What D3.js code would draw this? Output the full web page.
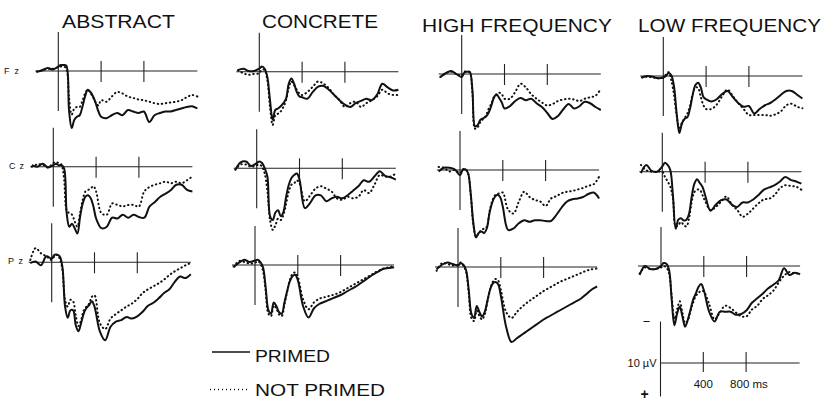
<!DOCTYPE html>
<html><head><meta charset="utf-8">
<script src="https://cdn.jsdelivr.net/npm/d3@7"></script>
<style>
html,body{margin:0;padding:0;background:#fff;}
svg{display:block;font-family:"Liberation Sans",Arial,Helvetica,sans-serif;}
</style></head>
<body><svg id="chart" width="823" height="406"></svg>
<script>
// time points (ms)
const times = [-200,-150,-100,-50,0,25,50,75,100,125,150,175,200,225,250,275,300,325,350,375,400,450,500,550,600,650,700,750,800,850,900,950,1000,1050,1100,1150,1200,1250,1300];
const conditions = ["ABSTRACT","CONCRETE","HIGH FREQUENCY","LOW FREQUENCY"];
const electrodes = ["Fz","Cz","Pz"];
const seriesNames = ["PRIMED","NOT PRIMED"];
const calibTicks = [400, 800];
const calibTickLabels = ["400", "800 ms"];

// amplitudes in µV (positive plotted downward)
const abstractFzPrimed    = [0.1,-0.1,-0.4,-0.2,-0.6,-0.8,-0.8,-0.7,5.2,7.6,6.5,6.1,5.9,4.8,3.4,2.5,2.8,3.4,4.3,5.4,6.1,6.3,5.9,5.6,5.9,5.2,5.4,5.6,5.4,6.8,5.9,5.6,5.4,5.4,5.2,5.0,4.8,4.7,5.0];
const abstractFzNotPrimed = [0.1,-0.1,-0.3,-0.3,-0.5,-0.6,-0.6,-0.3,3.5,5.8,5.0,4.8,4.8,4.0,3.0,2.5,2.9,3.5,4.2,4.6,3.9,4.1,3.4,2.8,3.0,3.4,3.6,3.8,3.9,4.1,4.3,4.4,4.3,4.2,4.1,3.9,3.5,3.2,3.4];
const abstractCzPrimed    = [-0.2,0,-0.4,0.1,-0.2,-0.4,-0.2,-0.2,0.2,6.2,8.0,7.6,8.2,8.9,6.7,4.9,4.0,3.8,4.2,5.3,6.9,8.2,8.0,6.8,6.9,6.4,6.8,6.4,6.7,6.8,5.3,4.7,4.0,3.6,3.1,2.4,2.4,3.1,3.3];
const abstractCzNotPrimed = [0,-0.3,-0.3,0.1,-0.5,-0.6,-0.5,-0.3,1.5,5.8,6.2,6.4,7.3,8.0,6.2,4.4,3.3,3.1,2.9,2.6,3.3,6.2,6.4,4.9,5.1,5.3,5.1,5.1,5.3,3.3,2.7,2.4,2.2,2.0,2.2,2.0,2.2,1.8,1.3];
const abstractPzPrimed    = [0.1,-0.1,0.4,-0.8,-0.5,-1.0,-1.0,-0.8,0.6,5.9,7.4,6.4,6.4,8.4,9.2,8.1,6.8,6.1,5.7,5.2,5.9,9.2,10.4,8.6,7.9,7.7,7.3,7.5,7.2,6.6,5.8,5.4,4.8,4.1,3.6,2.6,1.9,2.1,1.6];
const abstractPzNotPrimed = [-0.3,-1.9,-1.2,-0.8,-0.3,-0.8,-1.0,-0.5,1.0,5.0,5.9,5.0,5.2,7.1,8.5,7.7,6.4,5.9,5.5,4.6,4.4,8.1,8.9,7.5,6.9,6.4,5.9,5.5,4.9,4.1,3.6,3.2,2.8,2.3,1.7,1.2,0.8,0.4,0.1];

const concreteFzPrimed    = [-0.2,-0.4,-0.1,-0.1,-0.4,-0.7,-0.4,0.7,3.8,6.4,5.1,4.9,4.6,4.2,3.6,1.6,0.9,1.6,2.7,3.3,3.4,3.6,2.7,2.0,1.9,2.4,3.1,3.8,4.4,4.7,4.2,3.9,3.6,3.8,3.1,1.6,2.1,2.5,2.4];
const concreteFzNotPrimed = [-0.2,0.2,0.4,0.3,0.2,-0.3,-0.2,1.1,4.7,7.1,5.8,5.6,5.3,4.7,3.8,2.2,1.3,1.8,2.4,2.9,3.1,2.7,2.0,1.3,1.6,2.2,3.1,3.8,4.7,4.2,4.0,4.7,4.2,3.8,3.3,2.4,2.9,3.1,3.1];
const concreteCzPrimed    = [0.2,-0.8,-0.9,-0.3,-0.7,-0.9,-0.7,0,1.1,6.4,6.9,5.9,5.6,6.4,5.8,3.8,2.2,1.3,0.9,0.7,1.5,5.3,4.6,3.6,3.6,4.4,4.0,3.8,4.0,3.6,3.0,2.4,1.6,1.8,1.1,0.4,1.0,1.2,1.5];
const concreteCzNotPrimed = [0.2,-0.5,-0.5,-0.2,-0.4,-0.5,-0.2,0.7,3.0,6.9,8.2,7.6,6.7,6.9,6.2,4.7,3.1,2.2,2.0,1.6,2.0,4.4,3.6,2.7,2.4,2.7,3.1,4.0,4.2,3.8,4.0,3.8,2.9,3.3,2.2,0.9,1.1,1.1,0.7];
const concretePzPrimed    = [0.3,-0.3,-0.7,-0.4,-0.6,-0.7,-0.4,0.3,3.0,6.0,6.5,5.0,5.5,6.3,6.5,5.0,3.5,2.2,1.5,1.3,2.0,5.5,7.0,5.8,5.2,4.9,4.6,4.3,4.0,3.6,3.2,2.8,2.3,1.8,1.3,0.9,0.5,0.4,0.3];
const concretePzNotPrimed = [0.2,-0.5,-0.4,-0.2,-0.3,-0.5,-0.2,0.8,3.5,6.5,6.8,5.4,5.8,6.6,6.8,5.3,3.6,2.0,1.2,1.0,1.6,4.6,5.9,5.0,4.5,4.3,4.1,3.9,3.6,3.2,2.8,2.4,2.0,1.6,1.2,0.8,0.5,0.3,0.2];

const hfFzPrimed    = [0.4,-0.1,-0.4,0,0.4,-0.2,-0.3,-0.3,2.1,7.0,6.8,6.1,5.9,5.7,5.2,4.3,3.2,2.7,3.2,3.8,4.6,4.3,3.6,3.2,3.5,3.3,3.9,4.4,5.2,6.0,5.6,4.7,4.0,4.6,4.3,3.7,3.9,4.4,4.8];
const hfFzNotPrimed = [0.4,-0.1,-0.3,0,0.2,-0.3,-0.3,-0.2,2.5,7.3,7.1,6.4,6.0,5.6,4.7,4.0,3.1,2.8,2.5,2.7,3.3,3.3,2.4,1.3,1.8,2.7,3.3,3.8,4.2,4.0,3.6,3.4,3.3,3.4,3.6,3.3,3.1,2.9,2.0];
const hfCzPrimed    = [0.2,-0.3,-0.3,-0.1,0.7,0,-0.1,0.4,3.1,7.1,9.0,8.4,8.2,8.4,7.8,5.8,4.4,3.6,3.3,3.6,4.9,8.0,7.8,7.1,6.7,6.9,6.7,6.7,6.8,6.8,6.0,5.0,4.2,3.9,3.8,3.6,3.2,3.0,3.8];
const hfCzNotPrimed = [-0.4,-0.3,0.2,0,0.4,-0.1,-0.1,0.4,3.3,7.3,8.9,8.4,8.0,7.8,7.6,5.6,4.2,3.4,3.2,3.1,3.0,5.3,5.8,4.2,2.9,3.6,4.0,4.2,4.8,3.8,3.5,3.1,2.9,2.8,2.6,2.4,2.1,1.9,0.9];
const hfPzPrimed    = [0.3,-0.3,-0.6,-0.4,-0.2,-0.5,-0.3,0.4,3.0,6.2,6.8,5.2,6.0,6.6,6.0,4.5,3.0,2.2,2.0,2.3,3.8,8.0,10.0,9.5,9.0,8.5,8.0,7.5,7.0,6.6,6.2,5.8,5.4,5.0,4.6,4.2,3.6,3.0,2.6];
const hfPzNotPrimed = [0.5,-0.5,-0.4,-0.2,-0.3,-0.6,-0.2,0.6,3.5,6.8,7.2,5.8,6.5,7.0,6.3,4.6,3.0,2.0,1.6,1.8,3.0,6.0,6.8,6.0,5.3,4.7,4.2,3.7,3.2,2.8,2.4,2.0,1.7,1.4,1.1,0.8,0.5,0.3,0.2];

const lfFzPrimed    = [0.2,0,0.1,0.3,0.2,0,-0.4,-0.1,1.4,5.0,7.6,6.3,5.7,5.5,4.3,2.5,1.2,0.9,1.5,2.8,3.1,3.4,3.1,2.4,2.0,2.8,3.6,4.1,4.0,5.0,4.4,3.9,3.6,3.1,2.5,2.0,2.0,2.5,3.0];
const lfFzNotPrimed = [0.2,0.1,0.2,0.3,0.2,-0.2,-0.5,0.6,2.5,5.3,6.9,6.2,5.6,5.0,4.0,2.4,1.5,1.6,2.8,3.9,4.4,4.4,3.8,2.7,1.8,2.7,3.6,4.4,5.2,5.2,5.2,5.2,5.3,5.1,4.7,3.9,3.7,4.1,4.3];
const lfCzPrimed    = [0.2,-0.9,-0.1,0,-0.7,-1.2,-0.9,-0.2,3.3,7.6,6.4,6.2,6.5,6.4,5.6,3.3,1.6,1.0,1.5,2.0,3.1,5.2,4.4,3.8,3.7,4.4,4.7,4.1,4.1,3.7,3.1,2.4,2.1,1.8,1.3,0.7,1.1,1.3,1.6];
const lfCzNotPrimed = [-0.9,-0.2,0,0,0,0.7,1.3,2.0,3.6,7.3,7.1,6.7,7.1,7.3,6.2,4.0,2.7,2.4,2.4,3.1,3.9,5.1,4.7,4.0,3.3,4.4,5.1,6.0,5.6,4.9,4.2,3.7,3.6,3.1,2.2,1.8,1.9,2.0,2.4];
const lfPzPrimed    = [1.2,0,0.4,0.4,0,-0.4,-0.3,0.5,4.5,7.9,6.4,5.4,6.7,8.1,7.2,5.9,4.5,3.7,2.8,2.4,3.2,6.1,7.4,6.1,6.1,6.1,6.5,6.4,5.9,4.9,4.3,3.7,3.0,2.5,1.9,0.3,1.2,0.9,1.1];
const lfPzNotPrimed = [1.0,0.2,0.4,0.4,0.2,0,0.2,1.0,4.0,7.1,5.8,4.7,6.2,7.6,7.3,6.0,4.9,4.0,3.6,3.3,3.4,5.1,7.1,6.2,5.3,5.6,6.2,6.7,6.7,5.8,5.3,4.4,3.9,3.3,2.2,1.3,0.8,1.0,1.0];

const panelData = [
  [[abstractFzPrimed,abstractFzNotPrimed],[abstractCzPrimed,abstractCzNotPrimed],[abstractPzPrimed,abstractPzNotPrimed]],
  [[concreteFzPrimed,concreteFzNotPrimed],[concreteCzPrimed,concreteCzNotPrimed],[concretePzPrimed,concretePzNotPrimed]],
  [[hfFzPrimed,hfFzNotPrimed],[hfCzPrimed,hfCzNotPrimed],[hfPzPrimed,hfPzNotPrimed]],
  [[lfFzPrimed,lfFzNotPrimed],[lfCzPrimed,lfCzNotPrimed],[lfPzPrimed,lfPzNotPrimed]]
];

// ---- layout (the scanned figure is slightly skewed: per-panel origins) ----
const onsetX = [[58.3,53.3,51.7],[259.3,256.7,255],[461.7,460,458],[663.3,662.3,661]];
const baseY  = [[71,166.7,262.3],[71.7,168.3,265],[74,170,267],[76,171.7,266]];
const titlePos = [[62,28,113],[262,28.3,116],[422,32,190],[638,32,183]];

const svg = d3.select("#chart");
const x = d3.scaleLinear().domain([-200,1300]).range([-21.4,139.1]);
const y = d3.scaleLinear().domain([-5,5]).range([-37.5,37.5]);
const line = d3.line().x((d,i)=>x(times[i])).y(d=>y(d)).curve(d3.curveCatmullRom.alpha(0.5));

conditions.forEach((c,ci)=>{
  const tp = titlePos[ci];
  svg.append("text").attr("x",tp[0]).attr("y",tp[1]).attr("textLength",tp[2]).attr("lengthAdjust","spacingAndGlyphs")
    .attr("font-size",18.5).attr("fill","#111").text(c);
  electrodes.forEach((e,ei)=>{
    const g = svg.append("g").attr("transform",`translate(${onsetX[ci][ei]},${baseY[ci][ei]})`);
    g.append("line").attr("x1",x(-215)).attr("x2",x(1300)).attr("y1",0).attr("y2",0)
      .attr("stroke","#222").attr("stroke-width",1.1);
    g.append("line").attr("x1",0).attr("x2",0).attr("y1",-39).attr("y2",ei===2&&ci===3?0:40)
      .attr("stroke","#222").attr("stroke-width",1.1);
    [400,800].forEach(t=>{
      g.append("line").attr("x1",x(t)).attr("x2",x(t)).attr("y1",-10).attr("y2",11)
        .attr("stroke","#222").attr("stroke-width",1.1);
    });
    const [p,np] = panelData[ci][ei];
    g.append("path").attr("d",line(np)).attr("fill","none").attr("stroke","#111")
      .attr("stroke-width",2).attr("stroke-dasharray","0.5 3.6").attr("stroke-linecap","round");
    g.append("path").attr("d",line(p)).attr("fill","none").attr("stroke","#111")
      .attr("stroke-width",2);
  });
});

// electrode labels
const labelXY = [[4,74],[9,168.5],[8,264]];
electrodes.forEach((e,ei)=>{
  svg.append("text").attr("x",labelXY[ei][0]).attr("y",labelXY[ei][1]).attr("font-size",9)
    .attr("textLength",15).attr("lengthAdjust","spacing").attr("fill","#111").text(e);
});

// legend
svg.append("line").attr("x1",212).attr("x2",250).attr("y1",352).attr("y2",352).attr("stroke","#111").attr("stroke-width",1.4);
svg.append("text").attr("x",255).attr("y",362).attr("font-size",16.5).attr("textLength",75).attr("lengthAdjust","spacingAndGlyphs").attr("fill","#111").text(seriesNames[0]);
svg.append("line").attr("x1",210).attr("x2",250).attr("y1",389.5).attr("y2",389.5).attr("stroke","#111").attr("stroke-width",1.4).attr("stroke-dasharray","1 3");
svg.append("text").attr("x",255).attr("y",395.5).attr("font-size",16.5).attr("textLength",130).attr("lengthAdjust","spacingAndGlyphs").attr("fill","#111").text(seriesNames[1]);

// calibration
const cg = svg.append("g").attr("transform","translate(660.5,359)");
cg.append("line").attr("x1",0).attr("x2",0).attr("y1",y(-5)).attr("y2",y(5)).attr("stroke","#222").attr("stroke-width",1.1);
cg.append("line").attr("x1",0).attr("x2",x(1300)).attr("y1",4).attr("y2",4).attr("stroke","#222").attr("stroke-width",1.1);
calibTicks.forEach((t,i)=>{
  cg.append("line").attr("x1",x(t)).attr("x2",x(t)).attr("y1",-7).attr("y2",13).attr("stroke","#222").attr("stroke-width",1.1);
  cg.append("text").attr("x",i===0?x(t):x(t)-16).attr("y",29).attr("text-anchor",i===0?"middle":"start")
    .attr("font-size",11.5).attr("fill","#111").text(calibTickLabels[i]);
});
cg.append("text").attr("x",-14).attr("y",y(-5)+4).attr("text-anchor","middle").attr("font-size",13).attr("fill","#111").text("−");
cg.append("text").attr("x",-16).attr("y",y(5)+2).attr("text-anchor","middle").attr("font-size",14).attr("font-weight","bold").attr("fill","#111").text("+");
cg.append("text").attr("x",-4).attr("y",8).attr("text-anchor","end").attr("font-size",11).attr("fill","#111").text("10 µV");
</script>
</body></html>
